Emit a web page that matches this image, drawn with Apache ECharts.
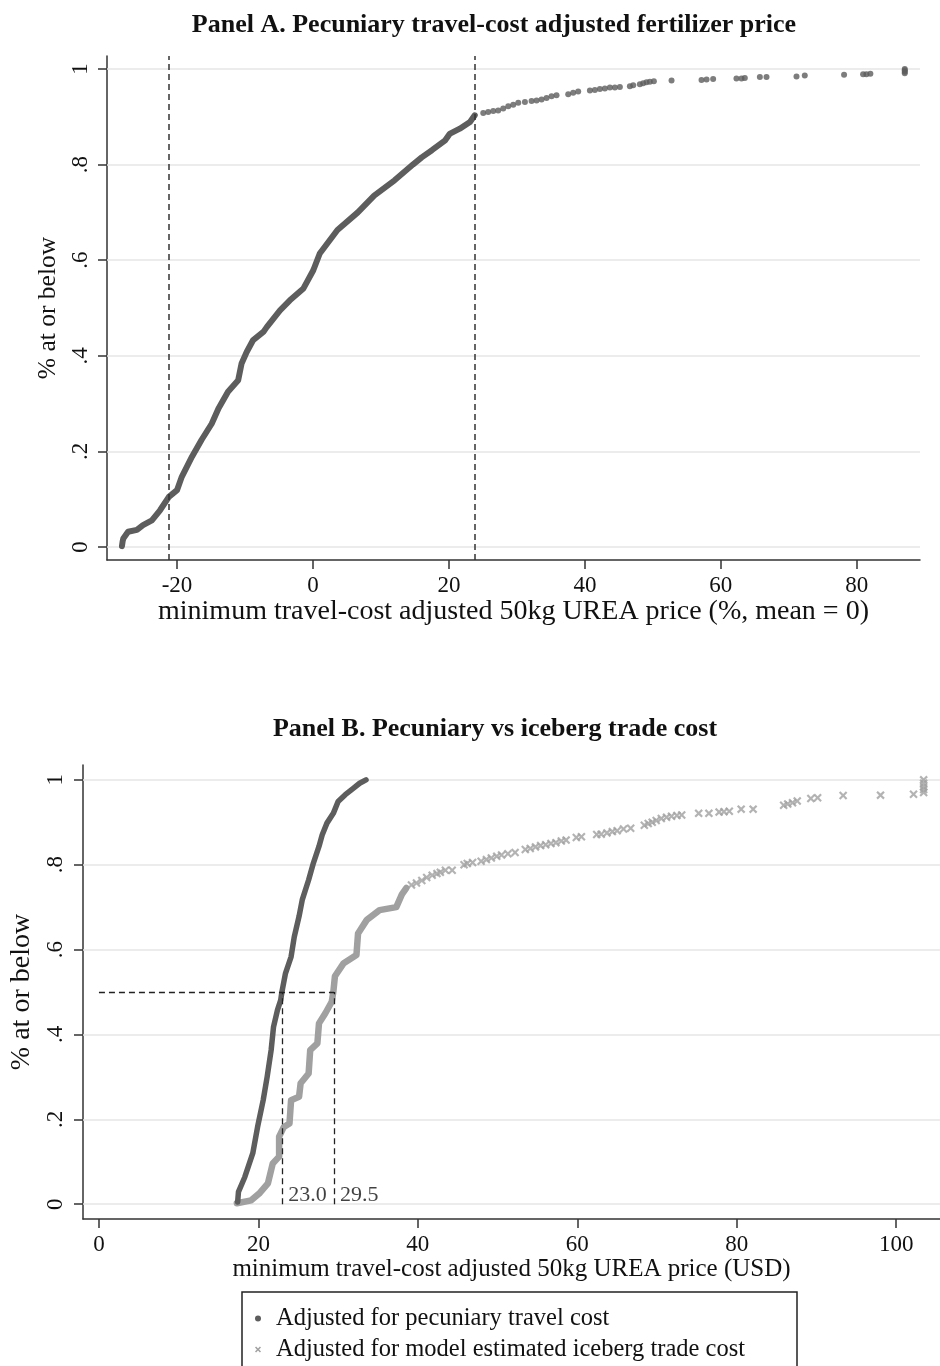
<!DOCTYPE html>
<html><head><meta charset="utf-8">
<script src="https://cdn.jsdelivr.net/npm/echarts@6/dist/echarts.min.js"></script>
<style>html,body{margin:0;padding:0;background:#fff}#c{width:940px;height:1366px}</style>
</head><body><div id="c"></div>
<script>
// ---------- data ----------
const yTicks = [0, 0.2, 0.4, 0.6, 0.8, 1];
const aXTicks = [-20, 0, 20, 40, 60, 80];
const bXTicks = [0, 20, 40, 60, 80, 100];

// Panel A: ECDF of travel-cost adjusted price (% deviation from mean)
const aDense = [[-28.1,0.002],[-28.0,0.012],[-27.9,0.018],[-27.2,0.032],[-25.9,0.036],[-25.0,0.046],[-23.7,0.056],[-22.5,0.077],[-21.2,0.105],[-20.0,0.119],[-19.3,0.147],[-17.8,0.189],[-16.4,0.224],[-14.9,0.258],[-13.9,0.290],[-12.5,0.325],[-11.0,0.349],[-10.5,0.384],[-9.75,0.408],[-8.8,0.433],[-7.3,0.450],[-6.8,0.460],[-4.85,0.495],[-3.4,0.516],[-1.4,0.541],[0.05,0.579],[1.0,0.614],[3.6,0.663],[6.6,0.70],[9.0,0.735],[12.0,0.767],[14.7,0.80],[16.0,0.815],[17.5,0.83],[19.4,0.85],[20.1,0.864],[21.6,0.875],[23.1,0.889],[23.8,0.903]];
const aTail = [[25.05,0.908],[25.78,0.910],[26.52,0.912],[27.25,0.913],[27.99,0.917],[28.73,0.922],[29.46,0.925],[30.2,0.929],[31.18,0.931],[32.16,0.933],[32.89,0.934],[33.63,0.936],[34.36,0.939],[35.1,0.943],[35.83,0.945],[37.55,0.947],[38.28,0.950],[39.02,0.953],[40.74,0.955],[41.47,0.956],[42.21,0.958],[42.94,0.959],[43.68,0.961],[44.41,0.961],[45.15,0.962],[46.62,0.964],[47.11,0.966],[48.09,0.968],[48.58,0.970],[49.07,0.972],[49.56,0.973],[50.15,0.974],[52.75,0.976],[57.16,0.977],[57.9,0.978],[58.87,0.979],[62.3,0.980],[63.04,0.980],[63.53,0.981],[65.74,0.983],[66.72,0.983],[71.13,0.984],[72.35,0.986],[78.13,0.988],[80.93,0.989],[81.42,0.989],[82.0,0.990],[87.06,0.991],[87.06,0.994],[87.06,0.997],[87.06,1.0]];
const aDashX = [-21.2, 23.8];

// Panel B: ECDF in USD
const bPec = [[17.4,0.005],[17.5,0.029],[18.3,0.064],[19.3,0.12],[19.9,0.182],[20.6,0.245],[21.1,0.30],[21.6,0.363],[21.9,0.418],[22.4,0.458],[22.8,0.481],[22.95,0.50],[23.4,0.544],[24.1,0.583],[24.5,0.630],[25.1,0.678],[25.5,0.717],[26.3,0.764],[26.9,0.804],[27.6,0.843],[28.0,0.870],[28.6,0.898],[29.4,0.921],[30.0,0.949],[30.9,0.965],[31.9,0.98],[32.7,0.992],[33.5,1.0]];
const bIce = [[17.3,0.002],[19.1,0.009],[20.1,0.025],[21.2,0.049],[21.8,0.096],[22.6,0.112],[22.6,0.159],[23.2,0.182],[23.9,0.19],[24.1,0.245],[25.1,0.253],[25.3,0.285],[26.3,0.308],[26.5,0.363],[27.4,0.379],[27.6,0.426],[28.4,0.450],[29.2,0.477],[29.4,0.50],[29.6,0.537],[30.7,0.568],[32.3,0.587],[32.5,0.638],[33.6,0.67],[35.2,0.693],[37.3,0.70],[38.0,0.73],[38.55,0.745]];
const bIceTail = [[39.2,0.752],[39.83,0.757],[40.5,0.763],[41.11,0.770],[41.8,0.775],[42.4,0.779],[42.82,0.782],[43.46,0.787],[44.31,0.787],[45.8,0.800],[46.2,0.803],[46.87,0.805],[47.94,0.808],[48.6,0.812],[49.22,0.816],[49.9,0.820],[50.5,0.823],[51.3,0.826],[52.2,0.829],[53.48,0.836],[54.1,0.838],[54.76,0.842],[55.4,0.845],[56.04,0.847],[56.7,0.850],[57.32,0.852],[58.0,0.856],[58.6,0.858],[59.88,0.864],[60.52,0.866],[62.44,0.871],[63.0,0.872],[63.72,0.875],[64.4,0.878],[65.0,0.880],[65.8,0.884],[66.7,0.886],[68.41,0.893],[68.9,0.897],[69.4,0.900],[69.9,0.904],[70.54,0.909],[71.2,0.912],[71.82,0.914],[72.5,0.916],[73.1,0.917],[75.23,0.921],[76.51,0.921],[77.79,0.924],[78.4,0.925],[79.07,0.926],[80.56,0.931],[82.06,0.931],[85.89,0.940],[86.4,0.943],[87.0,0.946],[87.59,0.950],[89.3,0.956],[90.15,0.958],[93.35,0.963],[98.04,0.964],[102.18,0.966],[103.45,0.970],[103.45,0.977],[103.45,0.984],[103.45,0.992],[103.45,1.0]];
const bMedians = [23.0, 29.5];
const bMedianLabels = ['23.0', '29.5'];
const bMedianP = 0.5;

const titleA = 'Panel A. Pecuniary travel-cost adjusted fertilizer price';
const titleB = 'Panel B. Pecuniary vs iceberg trade cost';
const xNameA = 'minimum travel-cost adjusted 50kg UREA price (%, mean = 0)';
const xNameB = 'minimum travel-cost adjusted 50kg UREA price (USD)';
const yName = '% at or below';
const nameP = 'Adjusted for pecuniary travel cost';
const nameI = 'Adjusted for model estimated iceberg trade cost';

// ---------- style ----------
const FONT = 'Liberation Serif';
const DARK = '#5d5d5d';
const LIGHT = '#a0a0a0';
const AXIS = '#333333';
const GRID = '#e6e6e6';
const CROSS = 'path://M0,1.8 L1.8,0 L5,3.2 L8.2,0 L10,1.8 L6.8,5 L10,8.2 L8.2,10 L5,6.8 L1.8,10 L0,8.2 L3.2,5 Z';

const fmtY = v => v === 0 ? '0' : (v === 1 ? '1' : '.' + Math.round(v * 10));

function xAxisCfg(gi, min, max, ticks, name, nameSize, gap) {
  return {
    type: 'value', gridIndex: gi, min: min, max: max,
    axisLine: {show: true, onZero: false, lineStyle: {color: AXIS, width: 1.5}},
    axisTick: {show: true, length: 9, customValues: ticks, lineStyle: {color: AXIS, width: 1.5}},
    axisLabel: {customValues: ticks, margin: 14, fontSize: 23, fontFamily: FONT, color: '#111'},
    splitLine: {show: false},
    name: name, nameLocation: 'middle', nameGap: gap,
    nameTextStyle: {fontSize: nameSize, fontFamily: FONT, color: '#111'}
  };
}
function yAxisCfg(gi, min, max, nameSize, gap, margin) {
  return {
    type: 'value', gridIndex: gi, min: min, max: max,
    axisLine: {show: true, onZero: false, lineStyle: {color: AXIS, width: 1.5}},
    axisTick: {show: true, length: 9, customValues: yTicks, lineStyle: {color: AXIS, width: 1.5}},
    axisLabel: {customValues: yTicks, rotate: 90, margin: margin, fontSize: 23, fontFamily: FONT, color: '#111', formatter: fmtY},
    splitLine: {show: false},
    name: yName, nameLocation: 'middle', nameGap: gap,
    nameTextStyle: {fontSize: nameSize, fontFamily: FONT, color: '#111'}
  };
}
const gridLines = {
  silent: true, symbol: 'none', z: 1, animation: false,
  label: {show: false},
  lineStyle: {color: GRID, width: 1.5, type: 'solid'},
  emphasis: {disabled: true},
  data: yTicks.map(v => ({yAxis: v}))
};

const chart = echarts.init(document.getElementById('c'), null, {renderer: 'canvas'});
chart.setOption({
  animation: false,
  backgroundColor: '#fff',
  title: [
    {text: titleA, left: 489, top: 7, textAlign: 'center', textStyle: {fontFamily: FONT, fontWeight: 'bold', fontSize: 26, color: '#111'}},
    {text: titleB, left: 490, top: 711, textAlign: 'center', textStyle: {fontFamily: FONT, fontWeight: 'bold', fontSize: 26, color: '#111'}}
  ],
  grid: [
    {left: 107, top: 56, width: 813, height: 504},
    {left: 83, top: 765, width: 868, height: 454}
  ],
  xAxis: [
    xAxisCfg(0, -30.3, 89.3, aXTicks, xNameA, 28, 34),
    xAxisCfg(1, -2, 105.5, bXTicks, xNameB, 25, 36)
  ],
  yAxis: [
    yAxisCfg(0, -0.027, 1.027, 25.5, 23.5, 15),
    yAxisCfg(1, -0.035, 1.035, 28, 25, 16)
  ],
  legend: {
    orient: 'vertical', left: 255, top: 1306, padding: 0, itemWidth: 26, itemHeight: 6, itemGap: 6,
    selectedMode: false,
    textStyle: {fontSize: 24.5, fontFamily: FONT, color: '#111', lineHeight: 24},
    data: [{name: nameP, icon: 'circle'}, {name: nameI, icon: CROSS}]
  },
  graphic: [{
    type: 'rect', silent: true,
    shape: {x: 242, y: 1292, width: 555, height: 120},
    style: {fill: 'none', stroke: '#222', lineWidth: 1.5}
  }],
  series: [
    {
      name: 'A curve', type: 'line', xAxisIndex: 0, yAxisIndex: 0, data: aDense,
      showSymbol: false, symbol: 'none', z: 2,
      lineStyle: {color: DARK, width: 6, cap: 'round', join: 'round'}, itemStyle: {color: DARK},
      markLine: gridLines
    },
    {
      name: 'A tail', type: 'scatter', xAxisIndex: 0, yAxisIndex: 0, data: aTail,
      symbol: 'circle', symbolSize: 6, itemStyle: {color: DARK}, z: 2,
      markLine: {
        silent: true, symbol: 'none', z: 3, label: {show: false},
        lineStyle: {color: AXIS, width: 1.5, type: [6, 4]},
        data: aDashX.map(v => ({xAxis: v}))
      }
    },
    {
      name: nameI, type: 'line', xAxisIndex: 1, yAxisIndex: 1, data: bIce,
      showSymbol: false, symbol: 'none', z: 2,
      lineStyle: {color: LIGHT, width: 6.5, cap: 'round', join: 'round'}, itemStyle: {color: LIGHT},
      markLine: gridLines
    },
    {
      name: nameI, type: 'scatter', xAxisIndex: 1, yAxisIndex: 1, data: bIceTail,
      symbol: CROSS, symbolSize: 8.5, itemStyle: {color: LIGHT}, z: 2
    },
    {
      name: nameP, type: 'line', xAxisIndex: 1, yAxisIndex: 1, data: bPec,
      showSymbol: false, symbol: 'circle', z: 3,
      lineStyle: {color: DARK, width: 5.5, cap: 'round', join: 'round'}, itemStyle: {color: DARK},
      markLine: {
        silent: true, symbol: 'none', z: 4, label: {show: false},
        lineStyle: {color: '#222', width: 1.3, type: [6, 4]},
        data: [
          [{coord: [0, bMedianP]}, {coord: [bMedians[1], bMedianP]}],
          [{coord: [bMedians[0], 0]}, {coord: [bMedians[0], bMedianP]}],
          [{coord: [bMedians[1], 0]}, {coord: [bMedians[1], bMedianP]}]
        ]
      }
    },
    {
      name: 'median labels', type: 'scatter', xAxisIndex: 1, yAxisIndex: 1,
      data: bMedians.map((v, i) => ({value: [v, 0], label: {formatter: bMedianLabels[i]}})),
      symbolSize: 0, z: 5, silent: true,
      label: {show: true, position: 'right', distance: 6, offset: [0, -9], fontSize: 22, fontFamily: FONT, color: '#111'}
    }
  ]
});
</script></body></html>
